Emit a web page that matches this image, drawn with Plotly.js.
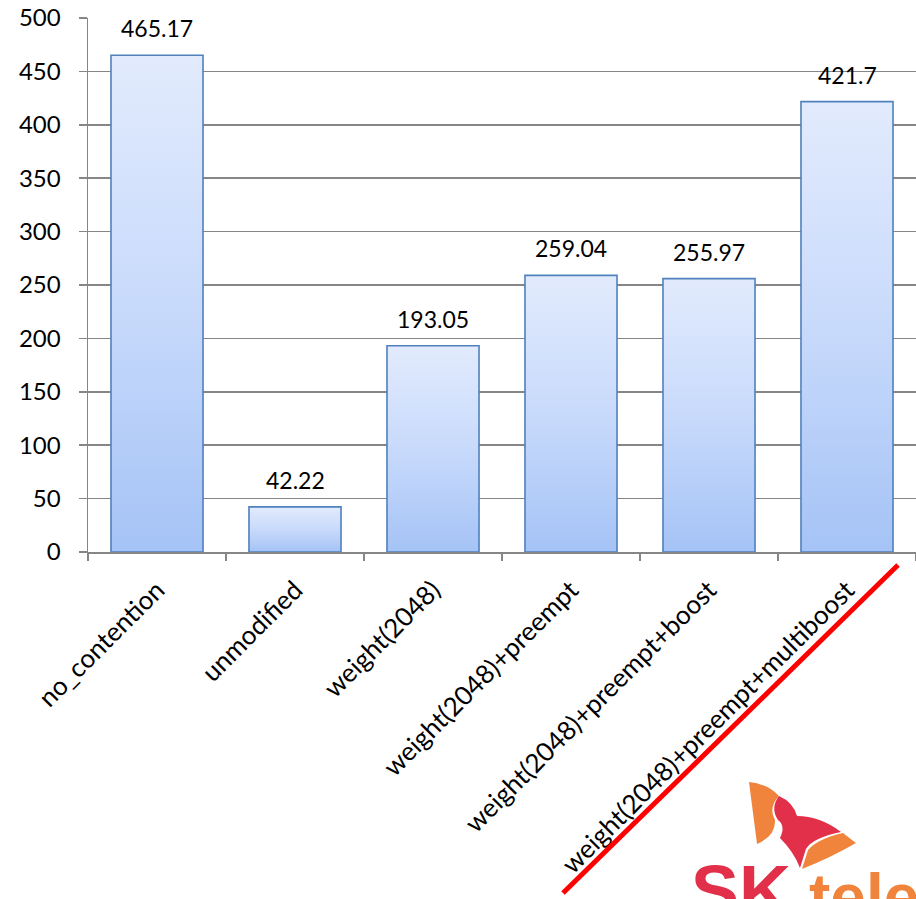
<!DOCTYPE html>
<html>
<head>
<meta charset="utf-8">
<script src="https://cdn.plot.ly/plotly-3.0.1.min.js"></script>
<style>html,body{margin:0;padding:0;background:#fff;}#chart{width:916px;height:899px;}</style>
</head>
<body>
<div id="chart"></div>
<script>
const categories = ["no_contention", "unmodified", "weight(2048)", "weight(2048)+preempt", "weight(2048)+preempt+boost", "weight(2048)+preempt+multiboost"];
const values = [465.17, 42.22, 193.05, 259.04, 255.97, 421.7];
const valueLabels = ["465.17", "42.22", "193.05", "259.04", "255.97", "421.7"];
const yTicks = [0, 50, 100, 150, 200, 250, 300, 350, 400, 450, 500];

const L = 88, T = 18, W = 916, H = 899, B = 552, R = 916;
function px(x, y) { return [((x - L) / (R - L)).toFixed(4), ((B - y) / (B - T)).toFixed(4)]; }
function pathFrom(cmds) {
  return cmds.map(c => {
    if (c[0] === 'Z') return 'Z';
    const pts = [];
    for (let i = 1; i < c.length; i += 2) { const p = px(c[i], c[i + 1]); pts.push(p[0] + ',' + p[1]); }
    return c[0] + pts.join(' ');
  }).join(' ');
}

const trace = {
  type: 'bar',
  x: categories,
  y: values,
  marker: { color: '#c2d6fa', line: { color: '#4f81bd', width: 1.6 } },
  hoverinfo: 'skip'
};

const annotations = categories.map((c, i) => ({
  x: c, y: values[i], xref: 'x', yref: 'y', text: valueLabels[i],
  showarrow: false, yanchor: 'bottom', yshift: 12, borderpad: 0,
  font: { family: 'Lato, sans-serif', size: 23, color: '#000' }
}));
const sp = px(690, 850);
annotations.push({ xref: 'paper', yref: 'paper', x: +sp[0], y: +sp[1], xanchor: 'left', yanchor: 'top',
  text: '<b>SK</b>', showarrow: false, borderpad: 0,
  font: { family: 'Liberation Sans, sans-serif', size: 72, color: '#e2304a' } });
const tp = px(808, 860);
annotations.push({ xref: 'paper', yref: 'paper', x: +tp[0], y: +tp[1], xanchor: 'left', yanchor: 'top',
  text: '<b>tele</b>', showarrow: false, borderpad: 0,
  font: { family: 'Liberation Sans, sans-serif', size: 64, color: '#f0843c' } });

const p0 = px(563, 893), p1 = px(898, 565);
const shapes = [
  { type: 'line', xref: 'paper', yref: 'paper', x0: +p0[0], y0: +p0[1], x1: +p1[0], y1: +p1[1],
    line: { color: '#ff0000', width: 5 }, layer: 'above' },
  { type: 'path', xref: 'paper', yref: 'paper', layer: 'above', line: { width: 0 }, fillcolor: '#f0843c',
    path: pathFrom([['M', 749, 782], ['Q', 768, 784, 779, 796], ['Q', 768, 808, 775, 820], ['Q', 776, 836, 757, 844], ['Z']]) },
  { type: 'path', xref: 'paper', yref: 'paper', layer: 'above', line: { width: 0 }, fillcolor: '#e2304a',
    path: pathFrom([['M', 779, 796], ['Q', 793, 802, 797, 816], ['Q', 820, 816, 841, 832], ['Q', 812, 838, 806, 849], ['L', 800, 868], ['Q', 794, 852, 780, 838], ['Q', 786, 826, 778, 820], ['Q', 770, 808, 779, 796], ['Z']]) },
  { type: 'path', xref: 'paper', yref: 'paper', layer: 'above', line: { width: 0 }, fillcolor: '#f0843c',
    path: pathFrom([['M', 843, 833], ['L', 856, 843], ['Q', 830, 858, 802, 869], ['L', 808, 850], ['Q', 817, 839, 843, 833], ['Z']]) }
];

const layout = {
  width: W, height: H,
  margin: { l: L, r: W - R, t: T, b: H - B, pad: 0 },
  paper_bgcolor: '#fff', plot_bgcolor: '#fff',
  showlegend: false,
  bargap: 0.333,
  font: { family: 'Lato, sans-serif', color: '#000' },
  xaxis: {
    type: 'category', tickangle: -45, tickson: 'boundaries', ticks: 'outside', ticklen: 7,
    tickcolor: '#868686', tickwidth: 1.5, showline: true, linecolor: '#868686', linewidth: 1.5,
    showgrid: false, tickfont: { family: 'Lato, sans-serif', size: 26, color: '#000' },
    ticklabelstandoff: 11, automargin: false
  },
  yaxis: {
    range: [0, 500], tickvals: yTicks, ticktext: yTicks.map(String), ticks: 'outside', ticklen: 8,
    tickcolor: '#868686', tickwidth: 1.5, showline: true, linecolor: '#868686', linewidth: 1.5,
    showgrid: true, gridcolor: '#868686', gridwidth: 1.5, zeroline: false,
    tickfont: { family: 'Lato, sans-serif', size: 24, color: '#000' },
    ticklabelstandoff: 13, automargin: false
  },
  annotations: annotations,
  shapes: shapes
};

Plotly.newPlot('chart', [trace], layout, { displayModeBar: false, staticPlot: true }).then(gd => {
  const svg = gd.querySelector('svg.main-svg');
  const ns = 'http://www.w3.org/2000/svg';
  let defs = svg.querySelector('defs');
  if (!defs) { defs = document.createElementNS(ns, 'defs'); svg.insertBefore(defs, svg.firstChild); }
  const g = document.createElementNS(ns, 'linearGradient');
  g.setAttribute('id', 'barGrad'); g.setAttribute('x1', '0'); g.setAttribute('y1', '0'); g.setAttribute('x2', '0'); g.setAttribute('y2', '1');
  [['0', '#e2ebfd'], ['0.5', '#c8dafb'], ['1', '#a5c3f6']].forEach(s => {
    const st = document.createElementNS(ns, 'stop'); st.setAttribute('offset', s[0]); st.setAttribute('stop-color', s[1]); g.appendChild(st);
  });
  defs.appendChild(g);
  gd.querySelectorAll('.barlayer .point path').forEach(p => { p.style.fill = 'url(#barGrad)'; p.style.fillOpacity = 1; });
});
</script>
</body>
</html>
